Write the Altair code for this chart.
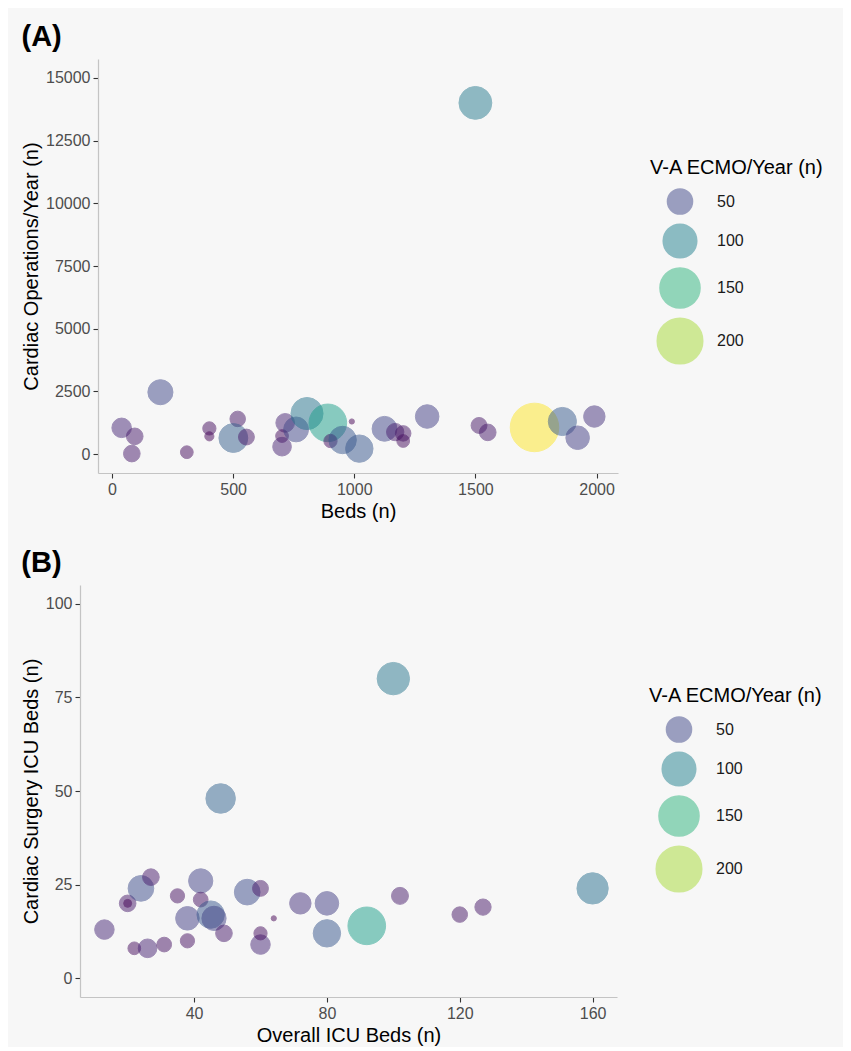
import altair as alt
import pandas as pd
import numpy as np

# ---------------- Panel A data ----------------
beds = [200, 40, 94, 82, 309, 402, 402, 519, 501, 555, 715, 702, 702, 760, 805, 891,
        990, 902, 952, 1021, 1125, 1169, 1202, 1202, 1301, 1515, 1551, 1744, 1859,
        1922, 1991, 1500]
cardiac_ops = [2470, 1050, 711, 24, 79, 1027, 711, 1406, 644, 683, 1248, 723, 300, 987,
               1619, 1248, 1303, 525, 565, 221, 1011, 881, 829, 525, 1501, 1145, 869,
               1066, 1303, 656, 1501, 14000]
ecmo_a = [50, 27, 18, 18, 9, 10, 4, 15, 70, 16, 24, 9, 24, 49, 90, 130, 2, 10, 62, 62,
          49, 20, 15, 9, 43, 16, 18, 230, 66, 43, 34, 95]

# ---------------- Panel B data ----------------
icu_beds = [13, 20, 20, 24, 27, 22, 26, 31, 35, 38, 38, 42, 42, 45, 46, 49, 56, 60, 60,
            60, 64, 72, 80, 80, 92, 100, 48, 102, 120, 127, 160]
cs_icu_beds = [13, 20, 20, 24, 27, 8, 8, 9, 22, 10, 16, 26, 21, 17, 16, 12, 23, 9, 24,
               12, 16, 20, 20, 12, 14, 80, 48, 22, 17, 19, 24]
ecmo_b = [27, 18, 3, 53, 18, 9, 24, 13, 12, 12, 43, 46, 13, 62, 46, 18, 53, 27, 16, 10,
          2, 34, 43, 62, 130, 92, 74, 19, 15, 17, 85]

# ---------------- ticks / labels ----------------
legend_values = [50, 100, 150, 200]
x_ticks_a = [0, 500, 1000, 1500, 2000]
y_ticks_a = [0, 2500, 5000, 7500, 10000, 12500, 15000]
x_ticks_b = [40, 80, 120, 160]
y_ticks_b = [0, 25, 50, 75, 100]

# ---------------- shared size / colour scales (viridis, area-style sizes) ----------------
VIRIDIS = ["#440154", "#482475", "#414487", "#355f8d", "#2a788e", "#21918c",
           "#22a884", "#44bf70", "#7ad151", "#bddf26", "#fde725"]
vmin, vmax = 2, 230
dmin, dmax = 5.2, 48.5
t_stops = [0, 0.005, 0.02, 0.05, 0.1, 0.15, 0.2, 0.3, 0.4, 0.5, 0.6, 0.7, 0.8, 0.9, 1.0]

anch = np.array([[int(c[i:i + 2], 16) for i in (1, 3, 5)] for c in VIRIDIS], float)


def vir(t):
    pos = t * 10
    i = min(int(np.floor(pos)), 9)
    f = pos - i
    c = anch[i] * (1 - f) + anch[i + 1] * f
    return "#%02x%02x%02x" % tuple(int(round(v)) for v in c)


dom = [float(vmin + t * (vmax - vmin)) for t in t_stops]
col_range = [vir(t) for t in t_stops]
size_range = [float((dmin + (dmax - dmin) * np.sqrt(t)) ** 2) for t in t_stops]

df_a = pd.DataFrame({"beds": beds, "ops": cardiac_ops, "ecmo": ecmo_a})
df_b = pd.DataFrame({"icu": icu_beds, "csicu": cs_icu_beds, "ecmo": ecmo_b})

FONT = "Liberation Sans, Arial, sans-serif"


def panel(df, xf, yf, xdom, ydom, xt, yt, xtitle, ytitle, w, h, label, lx, ly):
    color_scale = alt.Scale(domain=dom, range=col_range, zero=False, nice=False)
    size_scale = alt.Scale(domain=dom, range=size_range, zero=False, nice=False)
    leg = dict(values=legend_values, title="V-A ECMO/Year (n)", orient="none",
               legendX=lx, legendY=ly)
    return alt.Chart(df).mark_circle(opacity=0.5, strokeWidth=1).encode(
        x=alt.X(f"{xf}:Q", scale=alt.Scale(domain=xdom, nice=False, zero=False),
                axis=alt.Axis(values=xt, title=xtitle, format="d")),
        y=alt.Y(f"{yf}:Q", scale=alt.Scale(domain=ydom, nice=False, zero=False),
                axis=alt.Axis(values=yt, title=ytitle, format="d")),
        color=alt.Color("ecmo:Q", scale=color_scale, legend=alt.Legend(**leg)),
        size=alt.Size("ecmo:Q", scale=size_scale, legend=alt.Legend(**leg)),
        stroke=alt.Stroke("ecmo:Q", scale=color_scale, legend=None),
    ).properties(
        width=w, height=h,
        title=alt.TitleParams(label, anchor="start", font="Liberation Sans Narrow, Liberation Sans",
                              fontSize=29, fontWeight="bold", color="black", offset=7),
    )


def spacer():
    return alt.Chart(pd.DataFrame({"sp": [0]})).mark_point(opacity=0).encode(
        x=alt.X("sp:Q", axis=None), y=alt.Y("sp:Q", axis=None)
    ).properties(width=1, height=1)


def wrap(c):
    # an invisible 1px spacer first, so every panel is placed flush by its own left bound
    return alt.hconcat(spacer(), c, spacing=0).resolve_scale(
        x="independent", y="independent",
        color="independent", size="independent", stroke="independent"
    ).resolve_legend(color="independent", size="independent")


panel_a = panel(df_a, "beds", "ops", [-57.6, 2088.6], [-750, 15750], x_ticks_a, y_ticks_a,
                "Beds (n)", "Cardiac Operations/Year (n)", 520, 414, "(A)", 552, 99)
panel_b = panel(df_b, "icu", "csicu", [5.65, 167.35], [-5, 105], x_ticks_b, y_ticks_b,
                "Overall ICU Beds (n)", "Cardiac Surgery ICU Beds (n)", 537, 412, "(B)", 569, 101)

chart = alt.vconcat(wrap(panel_a), wrap(panel_b), spacing=28).resolve_scale(
    color="independent", size="independent", stroke="independent"
).resolve_legend(
    color="independent", size="independent"
).properties(
    padding={"left": 6, "top": 15, "right": 19, "bottom": 2},
    background="#f7f7f7",
).configure_view(
    stroke=None, fill="#f7f7f7"
).configure_axis(
    grid=False,
    labelFont=FONT, labelFontSize=16, labelColor="#4d4d4d", labelPadding=3,
    titleFont=FONT, titleFontSize=20, titleFontWeight="normal", titleColor="#000000",
    titlePadding=4,
    tickColor="#333333", tickSize=5, tickWidth=1.1,
    domainColor="#c4c4c4", domainWidth=1.2,
).configure_legend(
    titleFont=FONT, titleFontSize=20, titleFontWeight="normal", titleColor="#000000",
    titlePadding=10, titleLimit=400,
    labelFont=FONT, labelFontSize=16, labelColor="#1a1a1a", labelOffset=13,
    symbolType="circle", rowPadding=3, padding=0, symbolOffset=6, symbolOpacity=0.5,
)

chart.save("out.html", embed_options={"renderer": "svg", "actions": False})
